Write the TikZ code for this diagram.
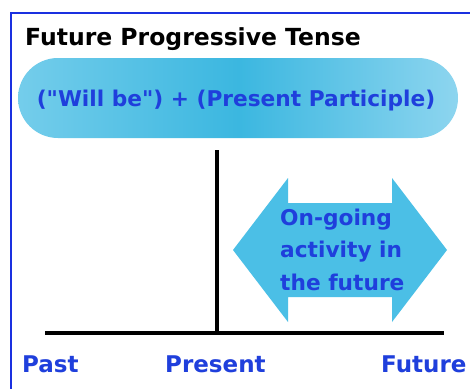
\documentclass[tikz,border=0pt]{standalone}
\usepackage{fontspec}
\setmainfont{DejaVu Sans}[Ligatures=TeXOff]
\definecolor{txtblue}{HTML}{1F3FDC}
\definecolor{frameblue}{HTML}{1A30E0}
\definecolor{arrowblue}{HTML}{4BBFE6}
\definecolor{pillL}{HTML}{74CDEB}
\definecolor{pillM}{HTML}{3BB7E0}
\definecolor{pillR}{HTML}{8DD5EF}
\begin{document}
\begin{tikzpicture}[x=1pt,y=-1pt,
  lbl/.style={inner sep=0pt,font=\bfseries\fontsize{23}{28}\selectfont,text=txtblue},
  axis/.style={line width=3.5pt,black}]
\useasboundingbox (0,0) rectangle (470,388);
\fill[white] (0,0) rectangle (470,388);
% frame
\draw[frameblue,line width=2.5pt] (11,400) -- (11,13) -- (480,13);
% title
\node[anchor=base west,inner sep=0pt,font=\bfseries\fontsize{23.5}{28}\selectfont] (title) at (25,45) {Future Progressive Tense};
% pill
\node[draw=none,rounded corners=40pt,minimum width=440pt,minimum height=80pt,
  left color=pillL,right color=pillR,middle color=pillM] (pill) at (238,98) {};
\node[lbl,anchor=base,font=\bfseries\fontsize{21.7}{26}\selectfont] (formula) at (236,106) {("Will be") + (Present Participle)};
% timeline
\coordinate (vtop) at (217,150);
\coordinate (vbot) at (217,333);
\coordinate (hl) at (45,333);
\coordinate (hr) at (444,333);
\draw[axis] (vtop) -- (vbot);
\draw[axis] (hl) -- (hr);
% double arrow
\fill[arrowblue] (233,250) -- (288,178) -- (288,203) -- (392,203) -- (392,178) -- (447,250)
  -- (392,322) -- (392,297) -- (288,297) -- (288,322) -- cycle;
\node[lbl,anchor=base west,align=left,font=\bfseries\fontsize{21.7}{32.5}\selectfont] (act) at (280,290) {On-going\\activity in\\the future};
% labels
\node[lbl,anchor=base west] (past) at (22,372) {Past};
\node[lbl,anchor=base west] (present) at (165,372) {Present};
\node[lbl,anchor=base west] (future) at (381,372) {Future};
\end{tikzpicture}
\end{document}
